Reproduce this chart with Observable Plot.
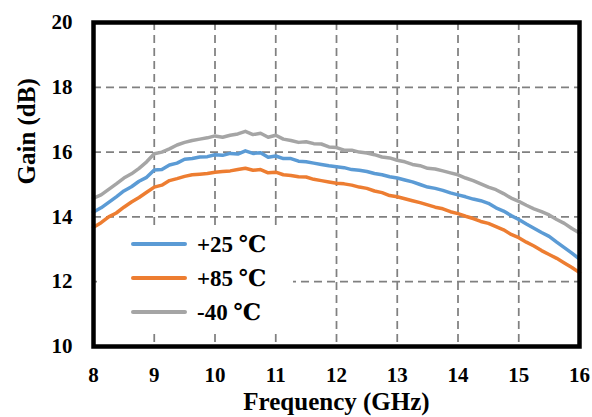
<!DOCTYPE html>
<html><head><meta charset="utf-8">
<script src="https://cdn.jsdelivr.net/npm/d3@7"></script>
<script src="https://cdn.jsdelivr.net/npm/@observablehq/plot@0.6"></script>
<style>
body{margin:0;background:#fff;}
#wrap{position:relative;width:592px;height:417px;font-family:"Liberation Serif","DejaVu Serif",serif;font-weight:bold;color:#000;}
#legend{position:absolute;left:97px;top:228px;width:196px;height:101px;background:#fff;}
.row{position:absolute;left:0;height:24px;display:flex;align-items:center;font-size:23px;white-space:nowrap;}
.row svg{margin-left:34px;margin-right:10px;}
</style></head>
<body><div id="wrap"><div id="legend"></div></div>
<script>
const seriesNames = ["+25 ℃", "+85 ℃", "-40 ℃"];
const seriesColors = ["#5B9BD5", "#ED7D31", "#A5A5A5"];
const xTicks = [8, 9, 10, 11, 12, 13, 14, 15, 16];
const yTicks = [10, 12, 14, 16, 18, 20];
const freq = [8.000,8.125,8.250,8.375,8.500,8.625,8.750,8.875,9.000,9.125,9.250,9.375,9.500,9.625,9.750,9.875,
  10.000,10.125,10.250,10.375,10.500,10.625,10.750,10.875,11.000,11.125,11.250,11.375,11.500,11.625,11.750,11.875,
  12.000,12.125,12.250,12.375,12.500,12.625,12.750,12.875,13.000,13.125,13.250,13.375,13.500,13.625,13.750,13.875,
  14.000,14.125,14.250,14.375,14.500,14.625,14.750,14.875,15.000,15.125,15.250,15.375,15.500,15.625,15.750,15.875,16.000];
const gain25 = [14.15,14.28,14.45,14.62,14.80,14.93,15.10,15.22,15.45,15.46,15.60,15.66,15.78,15.80,15.85,15.86,
  15.92,15.90,15.96,15.94,16.04,15.96,15.98,15.84,15.88,15.80,15.80,15.72,15.70,15.66,15.62,15.58,
  15.55,15.52,15.46,15.44,15.40,15.34,15.30,15.24,15.20,15.14,15.08,15.00,14.92,14.88,14.82,14.74,
  14.68,14.62,14.55,14.50,14.42,14.28,14.18,14.04,13.92,13.78,13.65,13.52,13.40,13.22,13.05,12.88,12.70];
const gain85 = [13.68,13.82,14.00,14.12,14.30,14.46,14.60,14.76,14.92,14.98,15.12,15.18,15.25,15.30,15.32,15.34,
  15.38,15.40,15.42,15.46,15.50,15.44,15.46,15.36,15.38,15.30,15.28,15.24,15.23,15.16,15.12,15.08,
  15.04,15.02,14.98,14.92,14.88,14.80,14.75,14.66,14.62,14.56,14.50,14.44,14.37,14.30,14.25,14.16,
  14.10,14.02,13.95,13.86,13.80,13.70,13.60,13.46,13.36,13.22,13.10,12.96,12.84,12.72,12.58,12.44,12.28];
const gainM40 = [14.58,14.68,14.85,15.02,15.20,15.33,15.50,15.70,15.95,16.00,16.10,16.22,16.30,16.36,16.40,16.44,
  16.50,16.46,16.52,16.56,16.64,16.54,16.58,16.46,16.52,16.40,16.36,16.30,16.32,16.26,16.25,16.16,
  16.14,16.06,16.06,16.00,15.97,15.92,15.85,15.82,15.75,15.70,15.62,15.58,15.50,15.48,15.42,15.36,
  15.30,15.20,15.12,15.02,14.92,14.84,14.72,14.58,14.48,14.36,14.25,14.16,14.06,13.92,13.80,13.64,13.50];

const seriesValues = [gain25, gain85, gainM40];
const rows = [];
seriesValues.forEach((vals, si) => vals.forEach((g, i) => rows.push({f: freq[i], g, s: seriesNames[si]})));

const FONT = "'Liberation Serif','DejaVu Serif',serif";
const chart = Plot.plot({
  width: 592, height: 417,
  marginLeft: 93, marginRight: 13, marginTop: 22, marginBottom: 71,
  style: {fontFamily: FONT, fontWeight: "bold", fontSize: "21px", color: "#000", background: "#fff", overflow: "visible"},
  x: {domain: [8, 16], ticks: xTicks, tickSize: 0, tickPadding: 21, label: null},
  y: {domain: [10, 20], ticks: yTicks, tickSize: 0, tickPadding: 21, label: null},
  color: {domain: seriesNames, range: seriesColors},
  marks: [
    Plot.gridX(xTicks, {stroke: "#808080", strokeOpacity: 1, strokeWidth: 1.75, strokeDasharray: "8,5"}),
    Plot.gridY(yTicks, {stroke: "#808080", strokeOpacity: 1, strokeWidth: 1.75, strokeDasharray: "8,5"}),
    Plot.line(rows, {x: "f", y: "g", z: "s", stroke: "s", strokeWidth: 3.5, strokeLinejoin: "round", strokeLinecap: "round"}),
    Plot.text(["Frequency (GHz)"], {text: d => d, frameAnchor: "bottom", dy: 63, lineAnchor: "bottom", fontSize: 25, fontWeight: "bold", fontFamily: FONT}),
    Plot.text(["Gain (dB)"], {text: d => d, frameAnchor: "left", dx: -76, rotate: -90, lineAnchor: "top", fontSize: 25, fontWeight: "bold", fontFamily: FONT}),
    Plot.frame({stroke: "#000", strokeWidth: 4.5})
  ]
});
const wrap = document.getElementById("wrap");
wrap.insertBefore(chart, wrap.firstChild);

// legend (drawn over the plot, white box hides grid)
const legend = document.getElementById("legend");
const rowCenters = [16, 50, 84];
seriesNames.forEach((name, i) => {
  const r = document.createElement("div");
  r.className = "row";
  r.style.top = (rowCenters[i] - 12) + "px";
  r.innerHTML = `<svg width="56" height="24"><line x1="2" x2="54" y1="12" y2="12" stroke="${seriesColors[i]}" stroke-width="4" stroke-linecap="round"/></svg><span>${name}</span>`;
  legend.appendChild(r);
});
</script>
</body></html>
